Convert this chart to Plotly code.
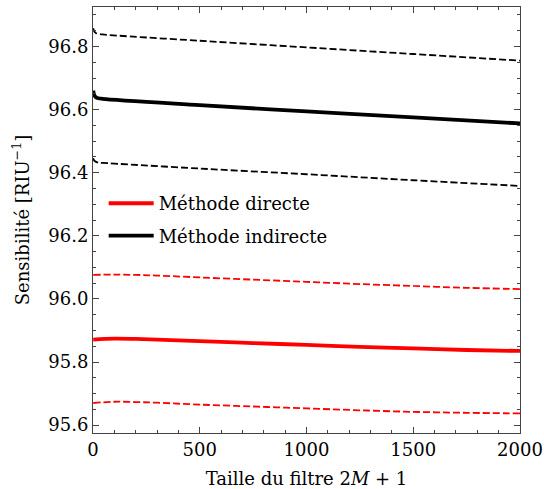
import plotly.graph_objects as go

# Indirect method (black)
x_ind = [1, 5, 12, 25, 45, 500, 1000, 1500, 2000]
ind_mean = [96.660, 96.647, 96.640, 96.636, 96.634, 96.614, 96.594, 96.575, 96.556]
ind_upper = [96.858, 96.849, 96.843, 96.840, 96.838, 96.818, 96.797, 96.776, 96.755]
ind_lower = [96.446, 96.439, 96.435, 96.432, 96.431, 96.413, 96.395, 96.376, 96.358]

# Direct method (red)
x_dir = [1, 100, 200, 300, 500, 750, 1000, 1250, 1500, 1750, 2000]
dir_mean = [95.871, 95.874, 95.873, 95.871, 95.866, 95.860, 95.854, 95.848, 95.843, 95.838, 95.835]
dir_upper = [96.076, 96.077, 96.076, 96.074, 96.068, 96.061, 96.054, 96.047, 96.041, 96.035, 96.031]
dir_lower = [95.670, 95.674, 95.673, 95.671, 95.665, 95.659, 95.653, 95.647, 95.642, 95.639, 95.637]

x_ticks = [0, 500, 1000, 1500, 2000]
y_ticks = [95.6, 95.8, 96.0, 96.2, 96.4, 96.6, 96.8]

FONT = "DejaVu Serif, Liberation Serif, serif"
dash = "7px,3px"

fig = go.Figure()
fig.add_trace(go.Scatter(x=x_dir, y=dir_upper, mode="lines", line=dict(color="red", width=1.8, dash=dash, shape="spline"), showlegend=False))
fig.add_trace(go.Scatter(x=x_dir, y=dir_lower, mode="lines", line=dict(color="red", width=1.8, dash=dash, shape="spline"), showlegend=False))
fig.add_trace(go.Scatter(x=x_dir, y=dir_mean, mode="lines", line=dict(color="red", width=3.8, shape="spline"),
                         name="Méthode directe", legendgroup="d"))
fig.add_trace(go.Scatter(x=x_ind, y=ind_upper, mode="lines", line=dict(color="black", width=1.8, dash=dash, shape="spline"), showlegend=False))
fig.add_trace(go.Scatter(x=x_ind, y=ind_lower, mode="lines", line=dict(color="black", width=1.8, dash=dash, shape="spline"), showlegend=False))
fig.add_trace(go.Scatter(x=x_ind, y=ind_mean, mode="lines", line=dict(color="black", width=3.8, shape="spline"),
                         name="Méthode indirecte", legendgroup="i"))

axis_common = dict(
    showgrid=False, zeroline=False, showline=True, linecolor="#444", linewidth=1,
    mirror="allticks", ticks="inside", ticklen=6, tickcolor="#444", automargin=False,
    tickfont=dict(family=FONT, size=18, color="black"),
)
fig.update_xaxes(
    range=[0, 2000], tickvals=x_ticks, ticktext=[str(v) for v in x_ticks],
    minor=dict(ticks="inside", dtick=100, ticklen=3, tickcolor="#444"),
    title=dict(text="Taille du filtre 2<i>M</i> + 1", font=dict(family=FONT, size=18, color="black"), standoff=14),
    **axis_common,
)
fig.update_yaxes(
    range=[95.575, 96.925], tickvals=y_ticks, ticktext=[f"{v:.1f}" for v in y_ticks],
    minor=dict(ticks="inside", dtick=0.05, tick0=95.6, ticklen=3, tickcolor="#444"),
    title=dict(text="Sensibilité [RIU<sup>−1</sup>]", font=dict(family=FONT, size=18, color="black"), standoff=14),
    **axis_common,
)
fig.update_layout(
    width=544, height=489,
    margin=dict(l=93, r=24, t=7, b=56),
    plot_bgcolor="white", paper_bgcolor="white",
    font=dict(family=FONT, size=18, color="black"),
    legend=dict(x=0.025, y=0.582, xanchor="left", yanchor="top", bgcolor="rgba(0,0,0,0)",
                font=dict(family=FONT, size=18), tracegroupgap=6, itemwidth=45),
)
fig.write_html("out.html", config={"displayModeBar": False},
               post_script="document.body.style.margin='0';document.body.style.padding='0';")
